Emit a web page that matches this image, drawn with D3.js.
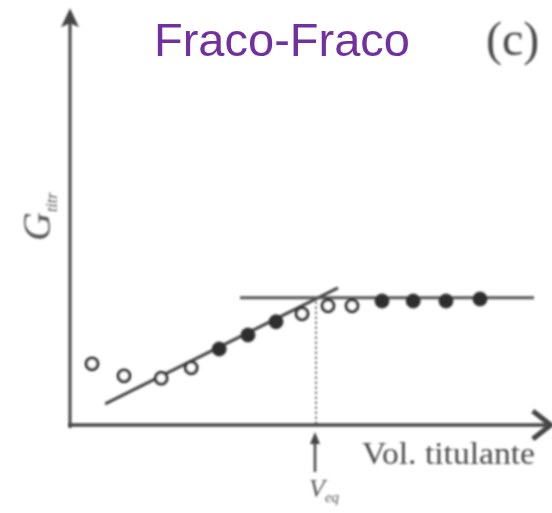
<!DOCTYPE html>
<html>
<head>
<meta charset="utf-8">
<script src="https://cdn.jsdelivr.net/npm/d3@7"></script>
<style>
  html, body { margin: 0; padding: 0; background: #fff; }
  svg { display: block; }
</style>
</head>
<body>
<svg id="chart" width="552" height="513"></svg>
<script>
// Conductometric titration, weak acid with weak base
const volume      = [0.55, 1.35, 2.28, 3.03, 3.73, 4.45, 5.15, 5.8, 6.45, 7.05, 7.8, 8.58, 9.4, 10.25];
const conductance = [1.53, 1.23, 1.17, 1.43, 1.9, 2.25, 2.58, 2.78, 2.98, 2.98, 3.1, 3.1, 3.1, 3.15];
const filledPoint = [false, false, false, false, true, true, true, false, false, false, true, true, true, true];

// Extrapolated branches and equivalence volume
const risingLine  = [[0.88, 0.53], [6.7, 3.43]];
const plateauLine = [[4.25, 3.18], [11.6, 3.18]];
const vEq = 6.15;

const titleText = "Fraco-Fraco";
const panelTag = "(c)";
const xLabel = "Vol. titulante";

const svg = d3.select("#chart");
const x = d3.scaleLinear().domain([0, 12]).range([70, 550]);
const y = d3.scaleLinear().domain([0, 10]).range([425, 25]);

const ink = "#454545";

// soft scan-like rendering for the drawing
const defs = svg.append("defs");
defs.append("filter").attr("id", "soft")
  .attr("x", "-5%").attr("y", "-5%").attr("width", "110%").attr("height", "110%")
  .append("feGaussianBlur").attr("stdDeviation", 0.8);

const g = svg.append("g").attr("filter", "url(#soft)");

// axes
const x0 = x(0), y0 = y(0);
const yTop = y(10.42), xEnd = x(12.02);
g.append("line").attr("x1", x0).attr("x2", x0).attr("y1", y0 + 3).attr("y2", yTop + 12)
  .attr("stroke", ink).attr("stroke-width", 3);
g.append("path")
  .attr("d", `M${x0},${yTop} L${x0 + 9},${yTop + 19} L${x0},${yTop + 15} L${x0 - 9},${yTop + 19} Z`)
  .attr("fill", ink);
g.append("line").attr("x1", x0 - 2).attr("x2", xEnd - 4).attr("y1", y0).attr("y2", y0)
  .attr("stroke", ink).attr("stroke-width", 3.5);
g.append("path")
  .attr("d", `M${xEnd - 18},${y0 - 14} L${xEnd},${y0} L${xEnd - 18},${y0 + 14}`)
  .attr("fill", "none").attr("stroke", ink).attr("stroke-width", 5)
  .attr("stroke-linejoin", "miter");

// fitted branches
const line = d3.line().x(d => x(d[0])).y(d => y(d[1]));
g.append("path").attr("d", line(risingLine))
  .attr("stroke", ink).attr("stroke-width", 3).attr("fill", "none");
g.append("path").attr("d", line(plateauLine))
  .attr("stroke", "#555").attr("stroke-width", 3).attr("fill", "none");

// equivalence marker
g.append("line").attr("x1", x(vEq)).attr("x2", x(vEq))
  .attr("y1", y(plateauLine[0][1]) + 4).attr("y2", y0)
  .attr("stroke", "#555").attr("stroke-width", 2).attr("stroke-dasharray", "2,3");
const ax = x(vEq) - 1;
g.append("line").attr("x1", ax).attr("x2", ax).attr("y1", y0 + 47).attr("y2", y0 + 15)
  .attr("stroke", ink).attr("stroke-width", 2.5);
g.append("path")
  .attr("d", `M${ax},${y0 + 7} L${ax + 5},${y0 + 19} L${ax - 5},${y0 + 19} Z`)
  .attr("fill", ink);

// data points
const pts = volume.map((v, i) => ({ v, c: conductance[i], f: filledPoint[i] }));
g.selectAll("circle.pt").data(pts).join("circle")
  .attr("class", "pt")
  .attr("cx", d => x(d.v)).attr("cy", d => y(d.c))
  .attr("r", d => d.f ? 7 : 5.8)
  .attr("fill", d => d.f ? "#2e2e2e" : "#fff")
  .attr("stroke", "#333")
  .attr("stroke-width", d => d.f ? 1 : 3.2);

// labels
const serif = "'Liberation Serif', 'DejaVu Serif', serif";
g.append("text").attr("x", 362).attr("y", 464)
  .attr("font-family", serif).attr("font-size", 31).attr("fill", "#4a4a4a")
  .attr("textLength", 173).attr("lengthAdjust", "spacingAndGlyphs")
  .text(xLabel);

const veqLabel = g.append("text").attr("x", 309).attr("y", 497)
  .attr("font-family", serif).attr("font-style", "italic").attr("font-size", 26).attr("fill", "#555");
veqLabel.append("tspan").text("V");
veqLabel.append("tspan").attr("font-size", 15).attr("dy", 5).text("eq");

const gLabel = g.append("text")
  .attr("transform", "translate(50,241) rotate(-90)")
  .attr("font-family", serif).attr("font-style", "italic").attr("font-size", 40).attr("fill", "#555");
gLabel.append("tspan").text("G");
gLabel.append("tspan").attr("font-size", 16).attr("dy", 7).text("titr");

g.append("text").attr("x", 486).attr("y", 55)
  .attr("font-family", serif).attr("font-size", 48).attr("fill", "#4a4a4a")
  .text(panelTag);

svg.append("text").attr("x", 154).attr("y", 56)
  .attr("font-family", "'Liberation Sans', Arial, sans-serif").attr("font-size", 47)
  .attr("fill", "#7030A0")
  .text(titleText);
</script>
</body>
</html>
